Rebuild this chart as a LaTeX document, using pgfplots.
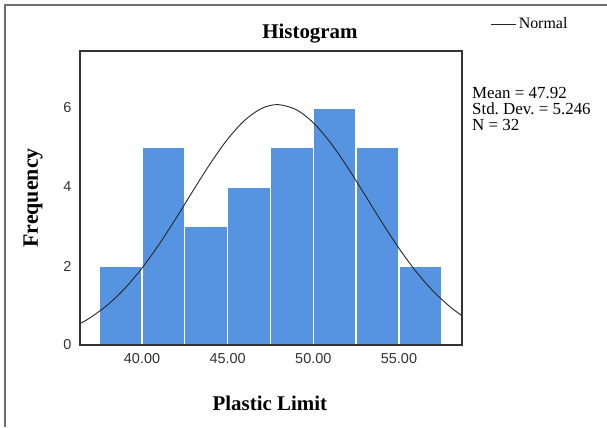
\documentclass[border=0pt]{standalone}
\usepackage{fontspec}
\setmainfont{Liberation Serif}
\setsansfont{Liberation Sans}
\usepackage{pgfplots}
\pgfplotsset{compat=1.18}
\definecolor{barblue}{RGB}{86,148,226}
\definecolor{framegray}{RGB}{110,110,110}
\definecolor{ticktext}{RGB}{50,50,50}
\begin{document}
\begin{tikzpicture}[x=1bp,y=1bp]
\useasboundingbox (0,0) rectangle (607,427);
\draw[framegray, line width=1.3bp] (5,0) -- (5,422) -- (607,422);
\begin{axis}[
  at={(80bp,82bp)}, anchor=south west,
  scale only axis, width=382bp, height=294bp,
  xmin=36.38, xmax=58.68, ymin=0, ymax=7.44,
  axis on top,
  axis line style={line width=1.3bp, black!80},
  xtick={40,45,50,55}, ytick={0,2,4,6},
  major tick length=0pt,
  xticklabel style={font=\fontsize{14.5}{16}\sffamily, text=ticktext, yshift=-5bp},
  yticklabel style={font=\fontsize{14.5}{16}\sffamily, text=ticktext, xshift=-5bp},
  /pgf/number format/assume math mode=true,
  xticklabel={\pgfmathprintnumber[fixed, fixed zerofill, precision=2]{\tick}},
  yticklabel={\pgfmathprintnumber[fixed, precision=0]{\tick}},
  every axis title shift=0pt,
  title={Histogram},
  title style={font=\fontsize{21}{23}\selectfont\bfseries, at={(axis description cs:0.602,1.061)}, anchor=center},
  xlabel={Plastic Limit},
  xlabel style={font=\fontsize{21}{23}\selectfont\bfseries, at={(axis description cs:0.497,-0.197)}, anchor=center},
  ylabel={Frequency},
  ylabel style={font=\fontsize{22}{24}\selectfont\bfseries, at={(axis description cs:-0.123,0.5)}, anchor=center},
  clip mode=individual,
  legend style={draw=none, fill=none, font=\fontsize{16}{18}\selectfont, at={(axis description cs:1.075,1.092)}, anchor=west, inner sep=0pt, legend cell align=left},
  legend image code/.code={\draw[#1] (0bp,0bp) -- (25bp,0bp);},
]
\addplot[ybar interval, fill=barblue, draw=white, line width=1.3bp, forget plot]
  coordinates {(37.5,2) (40,5) (42.5,3) (45,4) (47.5,5) (50,6) (52.5,5) (55,2) (57.5,2)};
\addplot[smooth, black!85, line width=0.9bp]
  coordinates {
  (36.38,0.5412) (37,0.6973) (38,1.0178) (39,1.4334) (40,1.9464) (41,2.5488)
  (42,3.2185) (43,3.9191) (44,4.6018) (45,5.2106) (46,5.6896) (47,5.9909)
  (47.92,6.0837) (49,5.9561) (50,5.6238) (51,5.1206) (52,4.4960) (53,3.8068)
  (54,3.1081) (55,2.4470) (56,1.8578) (57,1.3604) (58,0.9606) (58.68,0.7423)};
\addlegendentry{Normal}
\node[anchor=north west, align=left, font=\fontsize{17}{16}\selectfont, inner sep=0pt] at (axis description cs:1.026,0.877)
  {Mean = 47.92\\Std.\ Dev.\ = 5.246\\N = 32};
\end{axis}
\end{tikzpicture}
\end{document}
